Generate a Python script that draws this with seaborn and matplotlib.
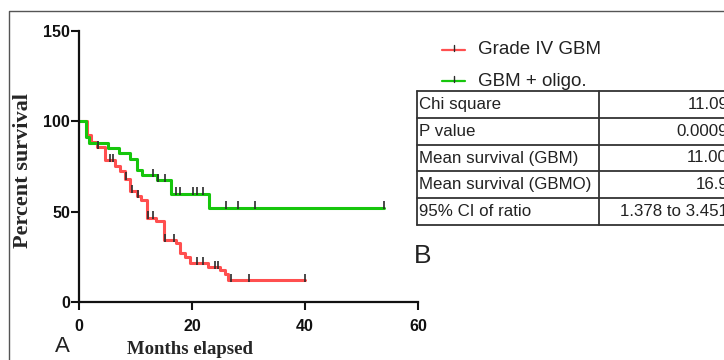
import numpy as np
import pandas as pd
import matplotlib
matplotlib.use("Agg")
import matplotlib.pyplot as plt
from matplotlib.lines import Line2D
from matplotlib.path import Path
import seaborn as sns

# ---- data ----
red_name = "Grade IV GBM"
green_name = "GBM + oligo."
red_t = [0, 1.4, 2.2, 3.1, 4.6, 6.4, 7.2, 8.1, 9.0, 10.2, 11.0, 12.1, 13.6, 15.0,
         17.1, 17.8, 18.7, 19.6, 22.8, 24.9, 25.8, 26.3]
red_s = [100, 92.3, 88.6, 85.8, 78.5, 75.3, 72.7, 68.3, 61.2, 58.5, 56.7, 46.7, 45.0, 34.3,
         32.4, 26.9, 25.0, 21.4, 19.5, 17.7, 15.5, 12.2]
red_cens = [3.4, 5.5, 6.1, 8.3, 9.3, 10.4, 12.3, 13.1, 15.2, 16.9, 20.8, 21.9, 24.0, 24.6,
            26.9, 30.1, 40.0]
green_t = [0, 1.2, 1.8, 5.1, 7.1, 9.1, 10.2, 11.1, 13.8, 16.2, 23.0]
green_s = [100, 91.5, 88.0, 85.0, 82.4, 79.4, 73.2, 70.2, 67.4, 60.0, 52.3]
green_cens = [13.1, 14.0, 15.2, 17.1, 17.9, 20.1, 20.9, 21.9, 26.1, 28.1, 31.1, 54.0]

x_ticks = [0, 20, 40, 60]
y_ticks = [0, 50, 100, 150]

table_rows = ["Chi square", "P value", "Mean survival (GBM)", "Mean survival (GBMO)", "95% CI of ratio"]
table_vals = ["11.09", "0.0009", "11.00", "16.9", "1.378 to 3.451"]

RED = "#ff4f4f"
GREEN = "#16c60c"
TICKC = "#2a2a2a"

def step_value(ts, ss, x):
    i = np.searchsorted(ts, x, side="right") - 1
    return ss[i]

rows = []
for name, ts, ss, cens in [(red_name, red_t, red_s, red_cens), (green_name, green_t, green_s, green_cens)]:
    for t, s in zip(ts, ss):
        rows.append((name, t, s))
    rows.append((name, max(cens), ss[-1]))
df = pd.DataFrame(rows, columns=["group", "t", "s"])

cens_rows = []
for name, ts, ss, cens in [(red_name, red_t, red_s, red_cens), (green_name, green_t, green_s, green_cens)]:
    for c in cens:
        cens_rows.append((name, c, step_value(ts, ss, c)))
cdf = pd.DataFrame(cens_rows, columns=["group", "t", "s"])

sns.set_style("ticks")
W, H = 724, 360
fig = plt.figure(figsize=(W / 100, H / 100), dpi=100)

def fx(px):
    return px / W

def fy(py):
    return 1 - py / H

ax = fig.add_axes([fx(79), fy(302), (418 - 79) / W, (302 - 31) / H])
sns.lineplot(data=df, x="t", y="s", hue="group", palette={red_name: RED, green_name: GREEN},
             drawstyle="steps-post", estimator=None, sort=False, lw=2.2, ax=ax, legend=False)

tick_marker = Path([(0, -0.3), (0, 1)])
sns.scatterplot(data=cdf, x="t", y="s", marker=tick_marker, facecolor="none", edgecolor=TICKC,
                s=80, linewidth=1.2, ax=ax, legend=False, zorder=5)

ax.set_xlim(0, 60)
ax.set_ylim(0, 150)
ax.set_xticks(x_ticks)
ax.set_yticks(y_ticks)
for sp in ["top", "right"]:
    ax.spines[sp].set_visible(False)
for sp in ["left", "bottom"]:
    ax.spines[sp].set_linewidth(1.6)
    ax.spines[sp].set_color("#111111")
ax.tick_params(axis="both", direction="out", length=5.5, width=1.5, color="#111111")
ax.tick_params(axis="y", pad=1)
ax.tick_params(axis="x", pad=6.5)
for lab in ax.get_xticklabels() + ax.get_yticklabels():
    lab.set_fontfamily("Liberation Sans")
    lab.set_fontweight("bold")
    lab.set_fontsize(11.5)
    lab.set_color("#111111")

ax.set_xlabel("Months elapsed", fontfamily="Liberation Serif", fontweight="bold", fontsize=13.5)
ax.set_ylabel("Percent survival", fontfamily="Liberation Serif", fontweight="bold", fontsize=16)
ax.xaxis.set_label_coords((190 - 79) / 339, (302 - 341) / 271)
ax.yaxis.set_label_coords((33 - 79) / 339, (302 - 171) / 271)

# figure frame
fig.add_artist(Line2D([fx(9), fx(9), fx(724)], [fy(360), fy(11), fy(11)],
                      transform=fig.transFigure, color="#555555", lw=1.0))

# panel letters
fig.text(fx(55), fy(352), "A", fontsize=16, fontfamily="Liberation Sans", color="#222222",
         ha="left", va="baseline")
fig.text(fx(414), fy(263), "B", fontsize=19, fontfamily="Liberation Sans", color="#222222",
         ha="left", va="baseline")

# legend
for (name, col, py) in [(red_name, RED, 50), (green_name, GREEN, 81)]:
    fig.add_artist(Line2D([fx(442), fx(465)], [fy(py), fy(py)], transform=fig.transFigure,
                          color=col, lw=1.6))
    fig.add_artist(Line2D([fx(453.5), fx(453.5)], [fy(py + 1), fy(py - 5)], transform=fig.transFigure,
                          color=TICKC, lw=1.0))
    fig.text(fx(478), fy(py), name, fontsize=13.5, fontfamily="Liberation Sans", color="#222222",
             ha="left", va="center")

# table
top, rh = 91, 26.8
left, mid, right = 417, 599, 760
nrows = len(table_rows)
for i in range(nrows + 1):
    y = top + i * rh
    fig.add_artist(Line2D([fx(left), fx(right)], [fy(y), fy(y)], transform=fig.transFigure,
                          color="#333333", lw=1.3))
for xx in [left, mid]:
    fig.add_artist(Line2D([fx(xx), fx(xx)], [fy(top), fy(top + nrows * rh)], transform=fig.transFigure,
                          color="#333333", lw=1.3))
for i, (r, v) in enumerate(zip(table_rows, table_vals)):
    yc = top + (i + 0.5) * rh
    fig.text(fx(419), fy(yc), r, fontsize=12.2, fontfamily="Liberation Sans", color="#222222",
             ha="left", va="center")
    fig.text(fx(728), fy(yc), v, fontsize=12.2, fontfamily="Liberation Sans", color="#222222",
             ha="right", va="center")

fig.savefig("out.png", dpi=100)
